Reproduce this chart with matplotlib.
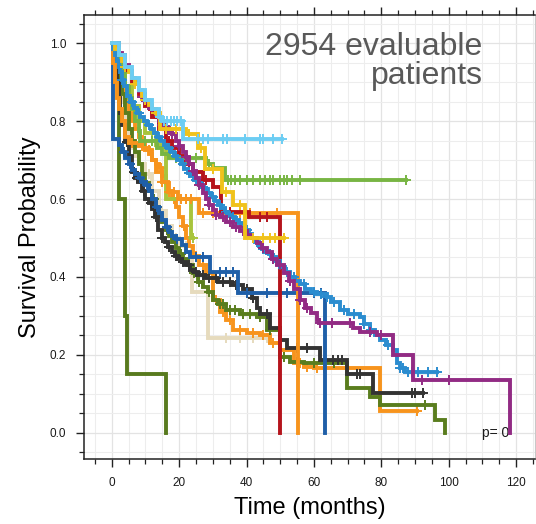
import numpy as np
import matplotlib
matplotlib.use("Agg")
import matplotlib.pyplot as plt
from matplotlib.ticker import MultipleLocator

plt.rcParams['font.family'] = ['Liberation Sans', 'DejaVu Sans']

# ---- Kaplan-Meier step data per group: event times, survival after each event,
# ---- last follow-up time and censoring times (months)
purple_t = [1, 2, 3, 4, 5, 6, 7, 8, 9, 10, 11, 12, 13, 14, 15, 16, 17, 18, 19, 20, 21, 22,
            23, 24, 25, 26, 27, 28, 29, 30, 31, 32, 34, 36, 38, 40, 41.5, 43, 44.5, 46,
            47.5, 49, 51, 52.5, 54, 55.9, 57.5, 59, 60.8, 61.5, 71.7, 73.7, 78.6, 83.6, 89.5, 118.2]
purple_s = [0.99, 0.975, 0.96, 0.945, 0.93, 0.91, 0.895, 0.878, 0.862, 0.85, 0.84, 0.83, 0.815,
            0.80, 0.79, 0.785, 0.775, 0.768, 0.75, 0.735, 0.72, 0.708, 0.69, 0.672, 0.655, 0.635,
            0.615, 0.60, 0.585, 0.572, 0.56, 0.553, 0.54, 0.527, 0.518, 0.508, 0.499, 0.488,
            0.475, 0.463, 0.445, 0.43, 0.41, 0.39, 0.37, 0.342, 0.32, 0.307, 0.29, 0.281, 0.268,
            0.259, 0.25, 0.20, 0.135, 0.0]
purple_end = 118.2
purple_c = [9, 12, 15, 18, 20, 22, 24, 26, 29, 31, 33, 35, 37, 39, 42, 45, 48, 50, 53, 56,
            58, 61.8, 65.3, 70.7, 76.6, 80, 92, 100]

mblue_t = [0.5, 1, 1.5, 2, 2.5, 3, 3.5, 4.5, 5.5, 6.5, 7.5, 8.5, 9.5, 10.5, 11.5, 12.5, 13.5,
           14.5, 15.5, 16.5, 17.5, 18.5, 19.5, 20.5, 21.5, 22.5, 23.5, 24.5, 25.5, 26.5, 27.5,
           28.5, 29.5, 30.5, 31.5, 32.5, 33.5, 34.6, 35.6, 36.6, 37.6, 38.6, 39.6, 40.6, 41.6,
           42.6, 43.6, 44.6, 45.6, 46.6, 47.6, 48.6, 50, 51.5, 53, 54.5, 55.9, 57.5, 59, 61,
           63.8, 65, 67.7, 70, 73.7, 75, 76.7, 78, 79.6, 81.5, 83.6, 84.6, 85.5, 87]
mblue_s = [0.985, 0.97, 0.955, 0.94, 0.925, 0.905, 0.89, 0.865, 0.848, 0.835, 0.822, 0.81,
           0.80, 0.79, 0.78, 0.77, 0.76, 0.75, 0.74, 0.73, 0.72, 0.71, 0.70, 0.69, 0.678,
           0.667, 0.658, 0.648, 0.64, 0.632, 0.625, 0.615, 0.605, 0.595, 0.585, 0.577, 0.568,
           0.56, 0.553, 0.545, 0.538, 0.53, 0.52, 0.51, 0.50, 0.49, 0.48, 0.472, 0.465, 0.46,
           0.452, 0.44, 0.425, 0.413, 0.40, 0.39, 0.383, 0.37, 0.362, 0.355, 0.349, 0.335,
           0.315, 0.305, 0.298, 0.28, 0.263, 0.25, 0.238, 0.225, 0.212, 0.178, 0.165, 0.157]
mblue_end = 96.4
mblue_c = [3, 6, 8, 11, 14, 17, 19, 21, 23, 25, 27, 30, 32, 34, 36, 38, 40, 43, 45, 47, 49,
           52, 54, 57, 60, 62, 64, 66, 69, 72, 75, 77, 82, 85.5, 86.5, 88, 89, 91, 94, 96.4]

lblue_t = [2, 4, 6, 8, 10, 12, 14, 15, 21]
lblue_s = [0.97, 0.94, 0.91, 0.88, 0.855, 0.83, 0.81, 0.80, 0.755]
lblue_end = 50.4
lblue_c = [14.3, 15.5, 16.5, 17.5, 18.5, 19.5, 20.5, 25.6, 27.2, 28.6, 33, 34.3, 39.6, 44,
           45, 48, 50.4]

lgreen_t = [1, 2, 3, 4, 5, 6, 7, 8, 8.5, 13.5, 15, 17, 28, 30, 33.7]
lgreen_s = [0.98, 0.95, 0.92, 0.89, 0.86, 0.83, 0.80, 0.775, 0.75, 0.73, 0.715, 0.705,
            0.69, 0.68, 0.648]
lgreen_end = 87.3
lgreen_c = [10, 12, 19, 22, 25, 29, 34.5, 35.5, 36.5, 38, 40, 42, 44, 45.5, 47, 48, 50,
            51, 52, 53.5, 56, 87.3]

yellow_t = [1, 2, 3, 4, 5, 6, 7, 8, 9, 10, 11, 12, 13, 14.3, 22, 25.6, 27.7, 32.6, 36,
            39.6]
yellow_s = [0.985, 0.97, 0.955, 0.94, 0.925, 0.91, 0.895, 0.88, 0.865, 0.853, 0.842,
            0.832, 0.822, 0.78, 0.767, 0.73, 0.678, 0.618, 0.585, 0.50]
yellow_end = 51
yellow_c = [4, 7, 10, 13, 16, 19, 23, 26.5, 30, 34, 38, 42, 45, 47, 48.5, 51]

dred_t = [2, 4, 6, 8, 10, 12, 14, 16, 18, 20, 22, 24, 27, 30, 32.3, 40.8, 50]
dred_s = [0.97, 0.93, 0.90, 0.87, 0.84, 0.81, 0.78, 0.75, 0.73, 0.71, 0.69, 0.67, 0.65,
          0.63, 0.567, 0.554, 0.0]
dred_end = 50
dred_c = [11, 17, 23, 28, 35, 44, 46]

orange1_t = [0.5, 1, 1.5, 2, 3, 4, 5, 8, 10, 12, 13, 14.8, 16.7, 19.7, 26, 55.4]
orange1_s = [0.95, 0.90, 0.86, 0.83, 0.80, 0.76, 0.745, 0.735, 0.725, 0.70, 0.67, 0.644,
             0.618, 0.60, 0.563, 0.0]
orange1_end = 55.4
orange1_c = [6, 9, 11, 15, 17, 18.5, 20.5, 22, 23.5, 27, 30, 32, 35, 38, 41, 49]

dblue_t = [0.3, 2, 3, 4, 5, 6, 7, 8, 9, 10, 11, 12, 13, 14, 15, 16, 17, 18, 19, 20.8, 22,
           23.2, 29.2, 37.6, 63.3]
dblue_s = [0.755, 0.74, 0.72, 0.705, 0.69, 0.675, 0.665, 0.655, 0.645, 0.635, 0.62, 0.60,
           0.58, 0.565, 0.545, 0.528, 0.515, 0.505, 0.497, 0.482, 0.465, 0.452, 0.413,
           0.358, 0.0]
dblue_end = 63.3
dblue_c = [3.5, 5.5, 8.5, 10.5, 13.5, 16.5, 19.5, 25, 27, 32, 34, 36, 40, 46, 52, 60, 62]

black_t = [0.5, 1, 1.5, 2, 2.5, 3, 4, 5, 5.9, 6.9, 7.9, 8.9, 9.9, 10.9, 11.9, 12.8, 13.8,
           14.8, 15.8, 16.8, 17.8, 18.8, 19.8, 20.8, 22, 23.2, 24.5, 25.7, 27.7, 31.6, 35.6,
           39, 41.5, 43, 44, 47, 50, 51.9, 61.8, 69.7, 77.6]
black_s = [0.97, 0.94, 0.90, 0.86, 0.82, 0.79, 0.747, 0.71, 0.67, 0.655, 0.644, 0.62,
           0.60, 0.59, 0.575, 0.553, 0.52, 0.499, 0.49, 0.478, 0.465, 0.455, 0.447, 0.439,
           0.43, 0.417, 0.413, 0.405, 0.396, 0.387, 0.379, 0.37, 0.345, 0.319, 0.306, 0.268,
           0.238, 0.217, 0.187, 0.152, 0.103]
black_end = 92.5
black_c = [4.5, 6.5, 7.5, 9.5, 11.5, 13, 15, 17, 19, 21, 23, 25, 27, 29, 31, 33, 35, 37,
           40, 42, 46, 55, 58, 65.7, 67, 68.3, 72.7, 73.7, 89, 90, 92.5]

olive2_t = [1, 2, 3, 4, 5, 6, 7, 8, 9, 10, 11, 12, 13, 14, 15, 16, 17, 18, 19, 20, 21,
            22.7, 24, 25.7, 27, 28.7, 30.1, 31.6, 34, 38, 43, 46, 50, 53, 57, 69.7, 76.6,
            79.6, 95.9, 98.9]
olive2_s = [0.96, 0.92, 0.87, 0.82, 0.78, 0.75, 0.72, 0.69, 0.665, 0.64, 0.62, 0.60, 0.58,
            0.56, 0.54, 0.52, 0.505, 0.49, 0.475, 0.46, 0.445, 0.43, 0.41, 0.388, 0.375,
            0.362, 0.34, 0.33, 0.315, 0.306, 0.298, 0.264, 0.195, 0.182, 0.178, 0.114,
            0.092, 0.071, 0.033, 0.0]
olive2_end = 98.9
olive2_c = [12.5, 16.5, 20.5, 24.5, 26, 29, 32, 33, 35, 36.5, 39, 41, 44, 47, 51, 55, 60,
            66, 93]

orange2_t = [1, 2, 3, 4, 5, 6, 7, 8, 9, 10, 11, 12, 13, 14, 15, 16, 17, 18, 19, 20, 21, 22,
             23, 24, 26, 28, 30, 32, 34, 36, 40, 44, 47, 50, 54, 57, 60, 79.6]
orange2_s = [0.96, 0.92, 0.88, 0.85, 0.82, 0.80, 0.78, 0.76, 0.745, 0.73, 0.715, 0.70,
             0.69, 0.68, 0.66, 0.64, 0.62, 0.60, 0.58, 0.555, 0.53, 0.50, 0.48, 0.455, 0.43,
             0.41, 0.34, 0.31, 0.29, 0.263, 0.255, 0.25, 0.23, 0.212, 0.18, 0.17, 0.165,
             0.055]
orange2_end = 90.5
orange2_c = [14.5, 18.5, 21.5, 25, 27, 31, 33, 35, 38, 42, 45, 48, 56, 58, 61, 63, 90.5]

tan_t = [1, 2, 3, 4, 5, 6, 7, 8, 10, 12, 14, 16, 18, 20, 23.7, 28.5]
tan_s = [0.95, 0.90, 0.85, 0.80, 0.76, 0.73, 0.71, 0.69, 0.665, 0.62, 0.57, 0.53, 0.50,
         0.48, 0.362, 0.242]
tan_end = 46
tan_c = [11, 15, 19, 22, 34, 38, 42, 46]

ygreen_t = [1, 2, 3, 4, 6, 8, 10, 13, 16, 23.4]
ygreen_s = [0.98, 0.95, 0.92, 0.89, 0.84, 0.80, 0.77, 0.74, 0.60, 0.50]
ygreen_end = 24
ygreen_c = [12, 24]

olive1_t = [2, 4, 4.5, 16]
olive1_s = [0.60, 0.30, 0.15, 0.0]
olive1_end = 16
olive1_c = []

groups = [
    (tan_t, tan_s, tan_end, tan_c, '#e6dbbd'),
    (olive1_t, olive1_s, olive1_end, olive1_c, '#587a1e'),
    (orange2_t, orange2_s, orange2_end, orange2_c, '#f7941d'),
    (olive2_t, olive2_s, olive2_end, olive2_c, '#5a7d1e'),
    (black_t, black_s, black_end, black_c, '#333333'),
    (dblue_t, dblue_s, dblue_end, dblue_c, '#1f5fa8'),
    (ygreen_t, ygreen_s, ygreen_end, ygreen_c, '#a8c43c'),
    (orange1_t, orange1_s, orange1_end, orange1_c, '#f7941d'),
    (dred_t, dred_s, dred_end, dred_c, '#b5141c'),
    (lgreen_t, lgreen_s, lgreen_end, lgreen_c, '#78b543'),
    (mblue_t, mblue_s, mblue_end, mblue_c, '#2b8ccf'),
    (purple_t, purple_s, purple_end, purple_c, '#922b84'),
    (yellow_t, yellow_s, yellow_end, yellow_c, '#f0c21b'),
    (lblue_t, lblue_s, lblue_end, lblue_c, '#6ccdf3'),
]

fig = plt.figure(figsize=(5.36, 5.24), dpi=100)
ax = fig.add_axes([0.157, 0.124, 0.841, 0.847])

for i, (t, s, end, cens, col) in enumerate(groups):
    t = np.asarray(t, float)
    s = np.asarray(s, float)
    xs = np.concatenate([[0.0], t, [end]])
    ys = np.concatenate([[1.0], s, [s[-1]]])
    ax.plot(xs, ys, drawstyle='steps-post', color=col, lw=2.8,
            solid_joinstyle='miter', zorder=3 + i * 0.1)
    if len(cens):
        c = np.asarray(cens, float)
        idx = np.searchsorted(t, c, side='right') - 1
        cy = np.where(idx < 0, 1.0, s[np.clip(idx, 0, None)])
        ax.plot(c, cy, ls='none', marker='+', ms=7.5, mew=1.4, color=col,
                zorder=3 + i * 0.1)

ax.set_xlim(-8.2, 125.6)
ax.set_ylim(-0.0675, 1.072)
ax.xaxis.set_major_locator(MultipleLocator(20))
ax.xaxis.set_minor_locator(MultipleLocator(5))
ax.yaxis.set_major_locator(MultipleLocator(0.2))
ax.yaxis.set_minor_locator(MultipleLocator(0.05))
ax.yaxis.set_major_formatter(matplotlib.ticker.FormatStrFormatter('%.1f'))

ax.grid(which='major', color='#e3e3e3', lw=0.9, zorder=0)
ax.grid(which='minor', color='#ededed', lw=0.8, zorder=0)
ax.set_axisbelow(True)

for side in ('left', 'bottom', 'top'):
    ax.spines[side].set_color('#222222')
    ax.spines[side].set_linewidth(1.1)
ax.spines['right'].set_color('#c8c8c8')
ax.spines['right'].set_linewidth(0.8)

ax.tick_params(which='both', direction='out', top=True, right=False, color='#222222',
               labelsize=8.5, labelcolor='#1a1a1a')
ax.tick_params(which='major', length=6, width=1.0, pad=7)
ax.tick_params(which='minor', length=3.5, width=0.9)

ax.set_xlabel('Time (months)', fontsize=17, labelpad=6)
ax.set_ylabel('Survival Probability', fontsize=17, labelpad=6)

ax.text(482.7 / 536, 1 - 84 / 524, '2954 evaluable\npatients', transform=fig.transFigure,
        ha='right', va='baseline', fontsize=23, color='#595959', linespacing=0.95)
ax.text(109.8, 0.0, 'p= 0', fontsize=10, color='#1a1a1a', va='center', ha='left', zorder=2)

fig.savefig('out.png', dpi=100)
